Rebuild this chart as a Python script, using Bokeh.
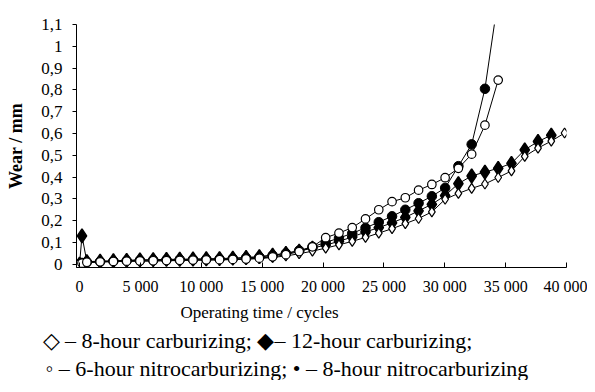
from bokeh.plotting import figure
from bokeh.models import FixedTicker, CustomJSTickFormatter, Title, Range1d
from bokeh.embed import file_html
from bokeh.resources import INLINE

# ---- data ----
cycles = [0, 200, 600, 1690, 2780, 3870, 4960, 6050, 7140, 8230, 9320, 10410,
          11500, 12590, 13680, 14770, 15860, 16950, 18040, 19130, 20220, 21310,
          22400, 23490, 24580, 25670, 26760, 27850, 28940, 30030, 31120, 32210,
          33300, 34390, 35480, 36570, 37660, 38750, 39840]

carb_8h = [0.0, 0.004, 0.008, 0.010, 0.012, 0.013, 0.014, 0.015, 0.016, 0.017,
           0.018, 0.019, 0.020, 0.021, 0.023, 0.026, 0.031, 0.038, 0.048, 0.060,
           0.074, 0.089, 0.105, 0.123, 0.143, 0.163, 0.186, 0.210, 0.240, 0.298,
           0.325, 0.348, 0.368, 0.398, 0.428, 0.495, 0.533, 0.565, 0.602]

carb_12h = [0.0, 0.130, 0.012, 0.014, 0.016, 0.018, 0.020, 0.021, 0.022, 0.023,
            0.024, 0.025, 0.026, 0.028, 0.031, 0.035, 0.042, 0.050, 0.060, 0.074,
            0.088, 0.105, 0.125, 0.148, 0.168, 0.190, 0.215, 0.245, 0.275, 0.315,
            0.370, 0.405, 0.423, 0.440, 0.463, 0.525, 0.563, 0.592]

nitro_6h = [0.0, 0.005, 0.009, 0.011, 0.013, 0.014, 0.015, 0.016, 0.017, 0.018,
            0.019, 0.020, 0.021, 0.022, 0.024, 0.028, 0.034, 0.044, 0.058, 0.080,
            0.122, 0.143, 0.168, 0.208, 0.250, 0.287, 0.305, 0.340, 0.366, 0.397,
            0.440, 0.505, 0.638, 0.845]

nitro_8h = [0.0, 0.006, 0.010, 0.012, 0.014, 0.016, 0.018, 0.019, 0.020, 0.021,
            0.022, 0.023, 0.024, 0.026, 0.029, 0.033, 0.040, 0.050, 0.063, 0.080,
            0.100, 0.120, 0.142, 0.167, 0.193, 0.220, 0.250, 0.280, 0.312, 0.350,
            0.450, 0.550, 0.805, 1.220]

y_ticks = [0, 0.1, 0.2, 0.3, 0.4, 0.5, 0.6, 0.7, 0.8, 0.9, 1.0, 1.1]
x_ticks = [0, 5000, 10000, 15000, 20000, 25000, 30000, 35000, 40000]

legend_line1 = "\u25c7 \u2013 8-hour carburizing; \u25c6\u2013 12-hour carburizing;"
legend_line2 = "\u25e6 \u2013 6-hour nitrocarburizing; \u2022 \u2013 8-hour nitrocarburizing"
x_title = "Operating time / cycles"
y_title = "Wear / mm"

FONT = "Liberation Serif"

p = figure(width=587, height=380, output_backend="svg", toolbar_location=None,
           x_range=Range1d(-250, 40000), y_range=Range1d(-0.015, 1.1),
           min_border_left=76, min_border_right=21, min_border_top=24,
           min_border_bottom=8)
p.grid.visible = False
p.outline_line_color = None
p.background_fill_color = "white"

# axes
xa = p.xaxis[0]
xa.ticker = FixedTicker(ticks=x_ticks)
xa.formatter = CustomJSTickFormatter(code="return tick == 0 ? '0' : (tick/1000) + ' 000';")
xa.major_tick_in = 5
xa.major_tick_out = 0
xa.minor_tick_line_color = None
xa.major_label_standoff = 10
xa.major_label_text_font = FONT
xa.major_label_text_font_size = "16px"
xa.major_label_text_color = "black"
xa.axis_line_color = "black"
xa.major_tick_line_color = "black"

ya = p.yaxis[0]
ya.ticker = FixedTicker(ticks=y_ticks)
ya.formatter = CustomJSTickFormatter(code="return (Math.round(tick*10)/10).toString().replace('.', ',');")
ya.major_tick_in = 0
ya.major_tick_out = 4
ya.minor_tick_line_color = None
ya.major_label_standoff = 10
ya.major_label_text_font = FONT
ya.major_label_text_font_size = "17px"
ya.major_label_text_color = "black"
ya.axis_line_color = "black"
ya.major_tick_line_color = "black"
ya.axis_label = y_title
ya.axis_label_text_font = FONT
ya.axis_label_text_font_size = "18px"
ya.axis_label_text_font_style = "bold"
ya.axis_label_text_color = "black"
ya.axis_label_standoff = 12

# lines
series = [carb_12h, nitro_8h, carb_8h, nitro_6h]
for vals in series:
    p.line(cycles[:len(vals)], vals, line_color="black", line_width=1)

# markers
p.scatter(cycles[:len(carb_12h)], carb_12h, marker="diamond", size=14,
          fill_color="black", line_color="black", line_width=1.5)
p.scatter(cycles[:len(nitro_8h)], nitro_8h, marker="circle", size=9.5,
          fill_color="black", line_color="black")
p.scatter(cycles[:len(carb_8h)], carb_8h, marker="diamond", size=10,
          fill_color="white", line_color="black", line_width=1.2)
p.scatter(cycles[:len(nitro_6h)], nitro_6h, marker="circle", size=8.5,
          fill_color="white", line_color="black", line_width=1.2)

# texts below the plot: axis title and the two legend lines
p.add_layout(Title(text=x_title, align="left", offset=104, standoff=7,
                   text_font=FONT, text_font_size="17px", text_font_style="normal",
                   text_color="black"), "below")
p.add_layout(Title(text=legend_line1, align="left", offset=-34, standoff=1,
                   text_font=FONT, text_font_size="22px", text_font_style="normal",
                   text_color="black"), "below")
p.add_layout(Title(text=legend_line2, align="left", offset=-31, standoff=0,
                   text_font=FONT, text_font_size="22px", text_font_style="normal",
                   text_color="black"), "below")

open("out.html", "w").write(file_html(p, INLINE))
